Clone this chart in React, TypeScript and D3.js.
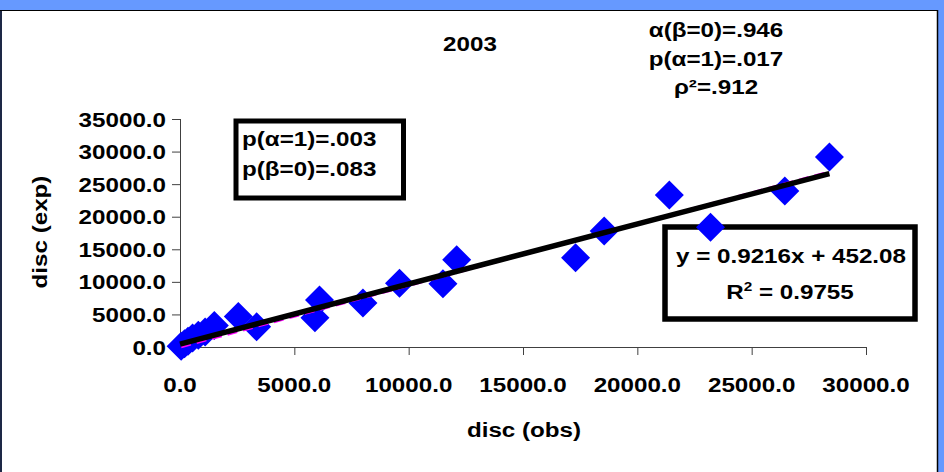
import React from "react";
import * as d3 from "d3";

const obsValues = [50, 200, 350, 550, 800, 1100, 1500, 2550, 3350, 5900, 6100, 8000, 9600, 11500, 12100, 17300, 18550, 21400, 23200, 26450, 28400];
const expValues = [100, 500, 900, 1400, 1800, 2300, 3300, 4700, 3100, 4500, 7200, 6750, 9800, 9700, 13400, 13700, 17800, 23350, 18400, 23950, 29150];
const xTicks = [0, 5000, 10000, 15000, 20000, 25000, 30000];
const yTicks = [0, 5000, 10000, 15000, 20000, 25000, 30000, 35000];
const fitSlope = 0.9216;
const fitIntercept = 452.08;
const originSlope = 0.946;
const titleText = "2003";
const topStats = ["α(β=0)=.946", "p(α=1)=.017", "ρ²=.912"];
const boxStats = ["p(α=1)=.003", "p(β=0)=.083"];
const xTitle = "disc (obs)";
const yTitle = "disc (exp)";

const SX = 1.18;
const FS = 20.5;
const FONT = "'Liberation Sans', Arial, sans-serif";

function T({ x, y, anchor = "middle", size = FS, rotate = 0, children }: any) {
  return (
    <text
      transform={`translate(${x},${y}) rotate(${rotate}) scale(${SX},1)`}
      textAnchor={anchor}
      fontFamily={FONT}
      fontWeight="bold"
      fontSize={size}
      fill="#000"
    >
      {children}
    </text>
  );
}

export default function App() {
  const x = d3.scaleLinear().domain([0, 30000]).range([180, 866]);
  const y = d3.scaleLinear().domain([0, 35000]).range([347, 119]);
  const fmt = d3.format(".1f");
  const xMin = d3.min(obsValues) as number;
  const xMax = d3.max(obsValues) as number;
  const line = d3.line<number>().x((d) => x(d)).y((d) => y(fitSlope * d + fitIntercept));
  const line0 = d3.line<number>().x((d) => x(d)).y((d) => y(originSlope * d));
  const h = 14.5;
  return (
    <svg width={944} height={472} style={{ position: "absolute", left: 0, top: 0 }}>
      <rect x={0} y={0} width={944} height={472} fill="#6699ff" />
      <rect x={0} y={10} width={937.5} height={462} fill="#ffffff" />
      <rect x={0} y={10} width={2} height={462} fill="#1d2846" />
      <line x1={0} y1={10.5} x2={938} y2={10.5} stroke="#000" strokeWidth={1.2} />
      <line x1={937.5} y1={10} x2={937.5} y2={472} stroke="#000" strokeWidth={1.5} />

      {/* axes */}
      <line x1={x(0)} y1={y(0) + 0.5} x2={x(30000)} y2={y(0) + 0.5} stroke="#404040" strokeWidth={1} />
      <line x1={x(0) + 0.5} y1={y(0)} x2={x(0) + 0.5} y2={y(35000)} stroke="#404040" strokeWidth={1} />
      {xTicks.map((t) => (
        <g key={"xt" + t}>
          <line x1={x(t) + 0.5} x2={x(t) + 0.5} y1={y(0)} y2={y(0) + 8} stroke="#404040" />
          <T x={x(t)} y={392}>{fmt(t)}</T>
        </g>
      ))}
      {yTicks.map((t) => (
        <g key={"yt" + t}>
          <line x1={x(0) - 8} x2={x(0)} y1={y(t) + 0.5} y2={y(t) + 0.5} stroke="#404040" />
          <T x={166} y={y(t) + 7.5} anchor="end">{fmt(t)}</T>
        </g>
      ))}

      {/* box 2 (beneath markers) */}
      <rect x={665} y={227} width={250} height={92} fill="#fff" stroke="#000" strokeWidth={5.5} />
      <T x={791} y={263}>{`y = ${fitSlope}x + ${fitIntercept}`}</T>
      <text
        transform={`translate(790,299) scale(${SX},1)`}
        textAnchor="middle"
        fontFamily={FONT}
        fontWeight="bold"
        fontSize={FS}
      >
        R<tspan fontSize={13} dy={-8}>2</tspan>
        <tspan dy={8}> = 0.9755</tspan>
      </text>

      {/* points */}
      {obsValues.map((o, i) => {
        const cx = x(o);
        const cy = y(expValues[i]);
        return (
          <path
            key={"p" + i}
            d={`M${cx},${cy - h}L${cx + h},${cy}L${cx},${cy + h}L${cx - h},${cy}Z`}
            fill="#0000ff"
          />
        );
      })}

      {/* lines */}
      <path d={line0([xMin, xMax]) as string} stroke="#ff00ff" strokeWidth={3} strokeDasharray="10,6" fill="none" />
      <path d={line([0, xMax]) as string} stroke="#000" strokeWidth={5.5} fill="none" />

      {/* titles */}
      <T x={470} y={51}>{titleText}</T>
      {topStats.map((s, i) => (
        <T key={"ts" + i} x={716} y={37 + i * 28.5}>{s}</T>
      ))}
      <T x={524} y={437}>{xTitle}</T>
      <T x={47} y={232} rotate={-90}>{yTitle}</T>

      {/* box 1 */}
      <rect x={236} y={121} width={167.5} height={77} fill="#fff" stroke="#000" strokeWidth={5} />
      {boxStats.map((s, i) => (
        <T key={"bs" + i} x={242} y={146 + i * 30} anchor="start">{s}</T>
      ))}
    </svg>
  );
}
